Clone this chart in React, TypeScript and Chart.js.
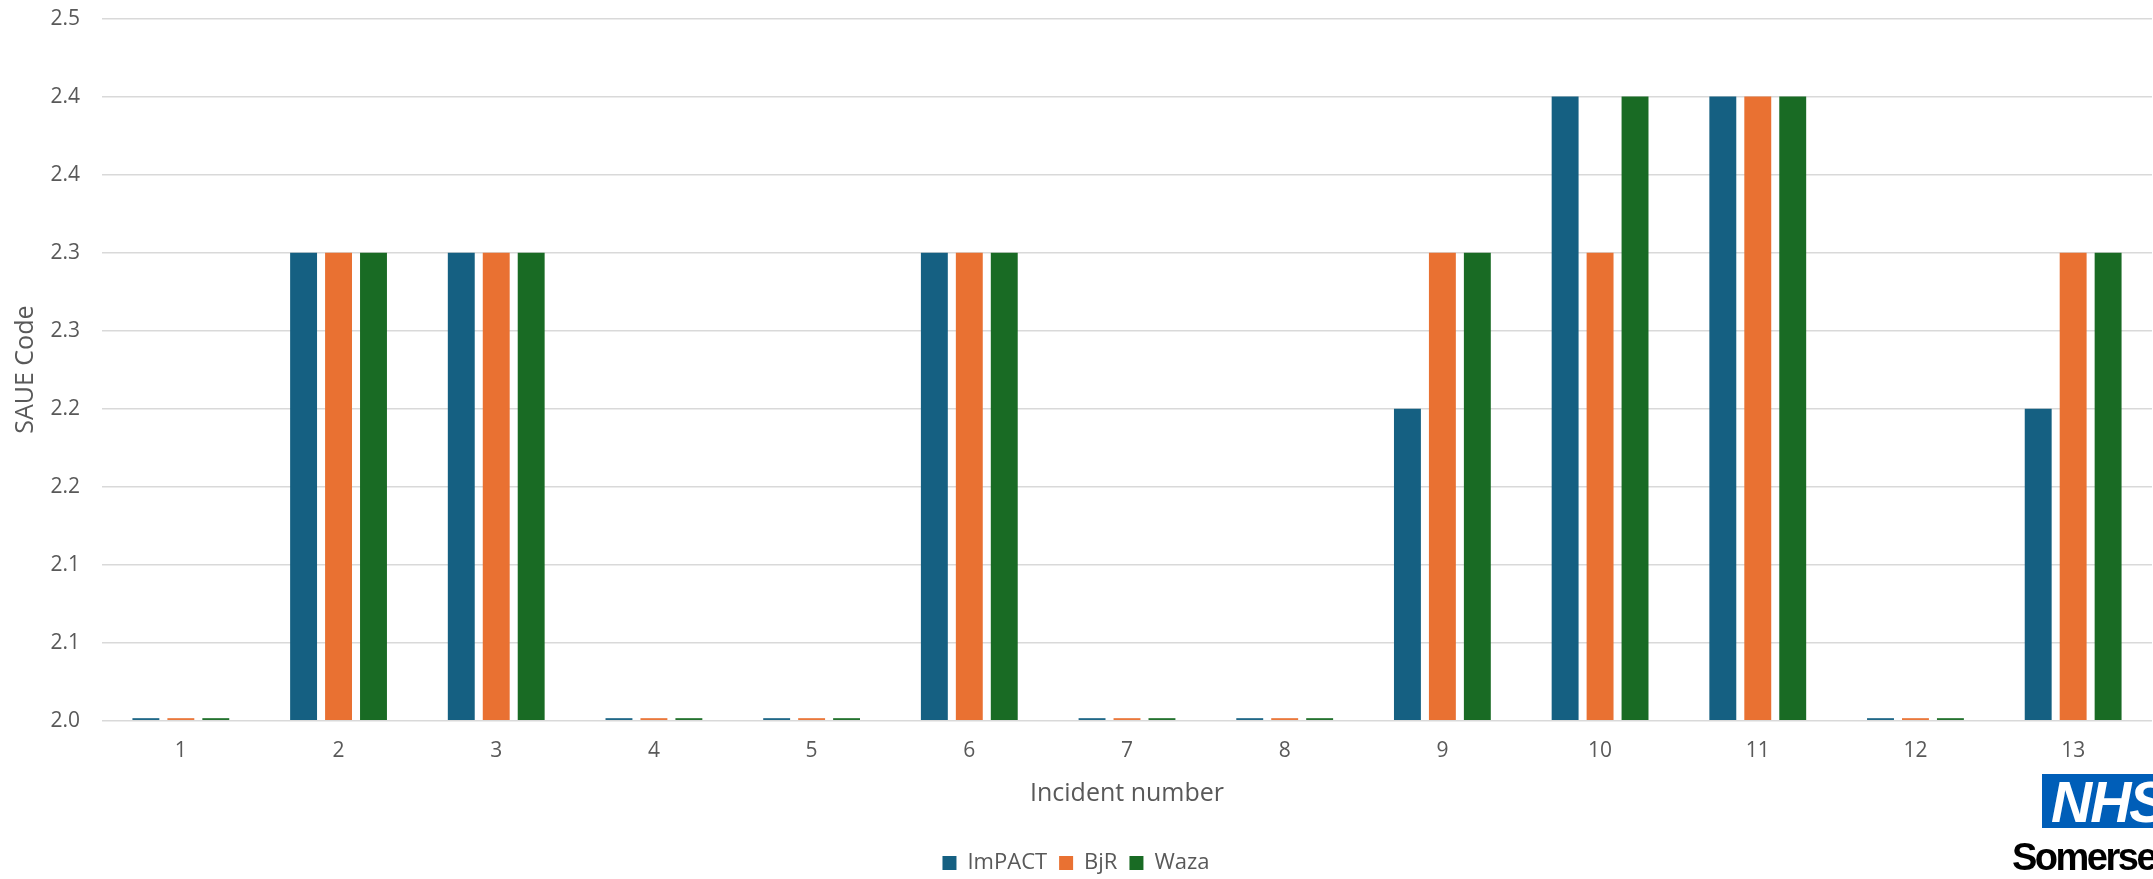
import React, { useEffect, useRef } from 'react';
import { Chart, registerables } from 'chart.js';

Chart.register(...registerables);

const categories = ['1', '2', '3', '4', '5', '6', '7', '8', '9', '10', '11', '12', '13'];
const impactValues = [2.0, 2.3, 2.3, 2.0, 2.0, 2.3, 2.0, 2.0, 2.2, 2.4, 2.4, 2.0, 2.2];
const bjrValues = [2.0, 2.3, 2.3, 2.0, 2.0, 2.3, 2.0, 2.0, 2.3, 2.3, 2.4, 2.0, 2.3];
const wazaValues = [2.0, 2.3, 2.3, 2.0, 2.0, 2.3, 2.0, 2.0, 2.3, 2.4, 2.4, 2.0, 2.3];
const yTickLabels = ['2.0', '2.1', '2.1', '2.2', '2.2', '2.3', '2.3', '2.4', '2.4', '2.5'];
const yMin = 2.0;
const yMax = 2.45;

const FONT = "'Open Sans', 'Noto Sans', Arial, sans-serif";
const TEXT = '#595959';

export default function App() {
  const ref = useRef<HTMLCanvasElement>(null);

  useEffect(() => {
    if (!ref.current) return;
    const chart = new Chart(ref.current, {
      type: 'bar',
      data: {
        labels: categories,
        datasets: [
          { label: 'ImPACT', data: impactValues, backgroundColor: '#156082' },
          { label: 'BjR', data: bjrValues, backgroundColor: '#E97132' },
          { label: 'Waza', data: wazaValues, backgroundColor: '#196B24' },
        ],
      },
      options: {
        responsive: false,
        animation: false,
        layout: { padding: { top: 6, right: 10, left: 0, bottom: 2 } },
        datasets: {
          bar: {
            categoryPercentage: 0.665,
            barPercentage: 0.77,
            base: yMin,
            minBarLength: 2.5,
            clip: false,
          },
        },
        plugins: {
          legend: {
            position: 'bottom',
            labels: {
              boxWidth: 14,
              boxHeight: 14,
              padding: 12,
              color: TEXT,
              font: { family: FONT, size: 22 },
            },
          },
          tooltip: { enabled: false },
        },
        scales: {
          x: {
            grid: { display: false, drawTicks: false },
            border: { display: false },
            ticks: { color: TEXT, font: { family: FONT, size: 21 }, padding: 17.7 },
            title: {
              display: true,
              text: 'Incident number',
              color: TEXT,
              font: { family: FONT, size: 25, lineHeight: 1.0 },
              padding: { top: 0, bottom: 33.7 },
            },
          },
          y: {
            min: yMin,
            max: yMax,
            border: { display: false },
            grid: { color: '#d9d9d9', lineWidth: 1.5, drawTicks: false },
            ticks: {
              stepSize: 0.05,
              color: TEXT,
              font: { family: FONT, size: 21 },
              padding: 22,
              callback: (_v: any, i: number) => yTickLabels[i],
            },
            title: {
              display: true,
              text: 'SAUE Code',
              color: TEXT,
              font: { family: FONT, size: 25 },
              padding: { top: 11, bottom: 0 },
            },
            afterFit: (scale: any) => {
              scale.width = 102;
            },
          },
        },
      },
    });
    return () => chart.destroy();
  }, []);

  return (
    <div
      style={{
        position: 'absolute',
        left: 0,
        top: 0,
        width: 2153,
        height: 879,
        overflow: 'hidden',
        background: '#ffffff',
      }}
    >
      <canvas ref={ref} width={2162} height={902} style={{ position: 'absolute', left: 0, top: -16 }} />
      <div
        style={{
          position: 'absolute',
          left: 2042,
          top: 774,
          width: 136,
          height: 54,
          background: '#005EB8',
          color: '#ffffff',
          fontFamily: "'Liberation Sans', Arial, sans-serif",
          fontWeight: 700,
          fontStyle: 'italic',
          fontSize: 57,
          lineHeight: '56px',
          letterSpacing: -2,
          paddingLeft: 9,
          boxSizing: 'border-box',
          overflow: 'hidden',
        }}
      >
        NHS
      </div>
      <div
        style={{
          position: 'absolute',
          left: 2012,
          top: 836,
          fontFamily: "'Liberation Sans', Arial, sans-serif",
          fontWeight: 700,
          fontSize: 38,
          lineHeight: '42px',
          letterSpacing: -2.5,
          color: '#000000',
          whiteSpace: 'nowrap',
        }}
      >
        Somerset
      </div>
    </div>
  );
}
